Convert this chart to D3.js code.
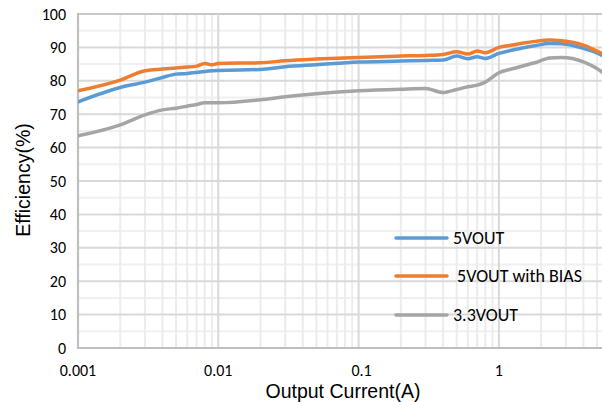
<!DOCTYPE html>
<html>
<head>
<meta charset="utf-8">
<script src="https://cdn.jsdelivr.net/npm/d3@7"></script>
<style>
  html, body { margin: 0; padding: 0; background: #fff; }
  svg { display: block; font-family: Carlito, "Open Sans", "Liberation Sans", sans-serif; }
</style>
</head>
<body>
<svg id="chart" width="602" height="402"></svg>
<script>
// Output current (A) and efficiency (%) for each supply configuration
const current = [0.001, 0.002, 0.003, 0.004, 0.005, 0.006, 0.007, 0.008, 0.009, 0.01,
                 0.02, 0.03, 0.05, 0.1, 0.2, 0.3, 0.4, 0.5, 0.6, 0.7, 0.8, 1,
                 1.25, 1.5, 1.8, 2.3, 2.8, 4, 5.4, 6.5];
const eff5V     = [73.7, 78.0, 79.6, 81.0, 82.0, 82.2, 82.5, 82.8, 83.0, 83.1,
                   83.4, 84.2, 84.8, 85.6, 85.9, 86.1, 86.2, 87.4, 86.6, 87.2, 86.7, 88.2,
                   89.2, 89.9, 90.5, 91.2, 91.1, 89.7, 87.7, 85.8];
const eff5VBias = [77.0, 80.2, 83.0, 83.5, 83.8, 84.1, 84.4, 85.2, 84.8, 85.2,
                   85.4, 86.0, 86.5, 87.0, 87.4, 87.6, 87.9, 88.7, 88.0, 88.9, 88.4, 90.0,
                   90.7, 91.3, 91.8, 92.2, 92.0, 90.7, 88.2, 86.3];
const eff33V    = [63.5, 66.8, 69.8, 71.3, 71.8, 72.4, 72.9, 73.4, 73.4, 73.4,
                   74.3, 75.2, 76.1, 77.0, 77.5, 77.7, 76.5, 77.4, 78.2, 78.7, 79.6, 82.4,
                   83.6, 84.5, 85.4, 86.8, 87.0, 85.7, 82.7, 79.5];

const seriesNames  = ["5VOUT", " 5VOUT with BIAS", "3.3VOUT"];
const seriesColors = ["#5B9BD5", "#ED7D31", "#A5A5A5"];
const xTicks = [0.001, 0.01, 0.1, 1];
const xTickLabels = ["0.001", "0.01", "0.1", "1"];
const yTicks = [0, 10, 20, 30, 40, 50, 60, 70, 80, 90, 100];

const svg = d3.select("#chart");
const plot = { left: 78, right: 602, top: 14, bottom: 348 };
const decade = 140.3;

const x = d3.scaleLog().domain([0.001, 10]).range([plot.left, plot.left + 4 * decade]);
const y = d3.scaleLinear().domain([0, 100]).range([plot.bottom, plot.top]);

svg.append("defs").append("clipPath").attr("id", "plotClip")
  .append("rect")
  .attr("x", plot.left).attr("y", plot.top - 5)
  .attr("width", plot.right - plot.left).attr("height", plot.bottom - plot.top + 10);

const grid = svg.append("g").attr("clip-path", "url(#plotClip)");

// minor horizontal gridlines every 5%
d3.range(5, 100, 10).forEach(v => {
  grid.append("line")
    .attr("x1", plot.left).attr("x2", plot.right)
    .attr("y1", y(v)).attr("y2", y(v))
    .attr("stroke", "#f0f0f0").attr("stroke-width", 2);
});

// minor vertical gridlines at 2..9 within each decade
const minorX = [];
[0.001, 0.01, 0.1, 1].forEach(d => { for (let k = 2; k <= 9; k++) minorX.push(d * k); });
minorX.forEach(v => {
  grid.append("line")
    .attr("x1", x(v)).attr("x2", x(v))
    .attr("y1", plot.top).attr("y2", plot.bottom)
    .attr("stroke", "#ececec").attr("stroke-width", 2);
});

// major horizontal gridlines
yTicks.forEach(v => {
  grid.append("line")
    .attr("x1", plot.left).attr("x2", plot.right)
    .attr("y1", y(v)).attr("y2", y(v))
    .attr("stroke", v === 100 ? "#c8c8c8" : "#d9d9d9").attr("stroke-width", 2);
});

// major vertical gridlines at decades
xTicks.slice(1).forEach(v => {
  grid.append("line")
    .attr("x1", x(v)).attr("x2", x(v))
    .attr("y1", plot.top).attr("y2", plot.bottom)
    .attr("stroke", "#d9d9d9").attr("stroke-width", 2);
});

// axis lines
svg.append("line")
  .attr("x1", plot.left).attr("x2", plot.left)
  .attr("y1", plot.top - 1).attr("y2", plot.bottom + 1)
  .attr("stroke", "#bfbfbf").attr("stroke-width", 2.2);
svg.append("line")
  .attr("x1", plot.left - 1).attr("x2", plot.right)
  .attr("y1", plot.bottom).attr("y2", plot.bottom)
  .attr("stroke", "#bfbfbf").attr("stroke-width", 2.2);

// Y tick labels
svg.append("g").selectAll("text").data(yTicks).join("text")
  .attr("x", 66).attr("y", d => y(d) + 5.5)
  .attr("text-anchor", "end")
  .attr("font-size", 16).attr("fill", "#000")
  .text(d => d);

// X tick labels
svg.append("g").selectAll("text").data(xTicks).join("text")
  .attr("x", (d, i) => x(d) + (i === 2 ? 3 : 0)).attr("y", 376)
  .attr("text-anchor", "middle")
  .attr("font-size", 16).attr("fill", "#000")
  .text((d, i) => xTickLabels[i]);

// Axis titles
svg.append("text")
  .attr("x", 343).attr("y", 398)
  .attr("text-anchor", "middle")
  .attr("font-family", "Liberation Sans, Arial, sans-serif")
  .attr("font-size", 19.5).attr("fill", "#000")
  .text("Output Current(A)");

svg.append("text")
  .attr("transform", "translate(30,180) rotate(-90)")
  .attr("text-anchor", "middle")
  .attr("font-family", "Liberation Sans, Arial, sans-serif")
  .attr("font-size", 19.5).attr("fill", "#000")
  .text("Efficiency(%)");

// Efficiency curves
const line = d3.line()
  .x(d => x(d[0]))
  .y(d => y(d[1]))
  .curve(d3.curveMonotoneX);

const series = [eff5V, eff5VBias, eff33V];
const lines = svg.append("g").attr("clip-path", "url(#plotClip)");
series.forEach((vals, i) => {
  lines.append("path")
    .datum(current.map((c, j) => [c, vals[j]]))
    .attr("fill", "none")
    .attr("stroke", seriesColors[i])
    .attr("stroke-width", 3.5)
    .attr("stroke-linejoin", "round")
    .attr("stroke-linecap", "round")
    .attr("d", line);
});

// Legend
const legendY = [238, 276, 315];
const legend = svg.append("g");
seriesNames.forEach((name, i) => {
  legend.append("line")
    .attr("x1", 396).attr("x2", 447)
    .attr("y1", legendY[i]).attr("y2", legendY[i])
    .attr("stroke", seriesColors[i]).attr("stroke-width", 3.5)
    .attr("stroke-linecap", "round");
  legend.append("text")
    .attr("x", 453).attr("y", legendY[i] + 6)
    .attr("font-size", 18).attr("fill", "#000")
    .attr("xml:space", "preserve")
    .style("white-space", "pre")
    .text(name);
});
</script>
</body>
</html>
